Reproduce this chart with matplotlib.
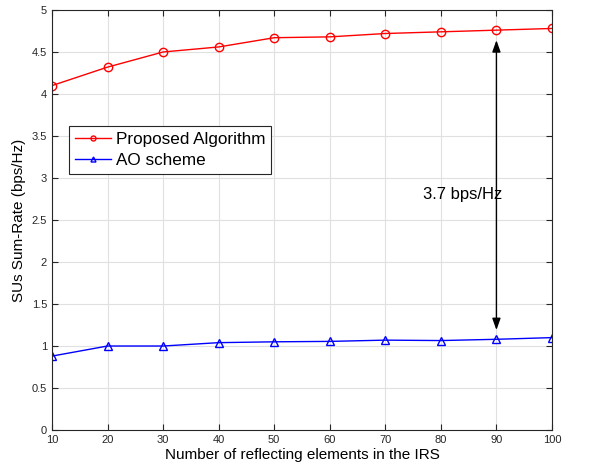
import numpy as np
import matplotlib.pyplot as plt

# Dados
n_elementos = [10, 20, 30, 40, 50, 60, 70, 80, 90, 100]
proposto = [4.10, 4.32, 4.50, 4.56, 4.67, 4.68, 4.72, 4.74, 4.76, 4.78]
ao = [0.88, 1.00, 1.00, 1.04, 1.05, 1.055, 1.07, 1.065, 1.08, 1.10]

plt.rcParams['font.family'] = ['Liberation Sans', 'DejaVu Sans']

fig = plt.figure(figsize=(5.95, 4.71), dpi=100)
ax = fig.add_axes([0.0874, 0.087, 0.8403, 0.8918])

ax.plot(n_elementos, proposto, 'r-o', lw=1, ms=6, mfc='none', mew=1, label='Proposed Algorithm')
ax.plot(n_elementos, ao, 'b-^', lw=1, ms=6, mfc='none', mew=1, label='AO scheme')

# seta dupla indicando o ganho
ax.annotate('', xy=(90, 4.64), xytext=(90, 1.19),
            arrowprops=dict(arrowstyle='<|-|>,head_length=0.7,head_width=0.25',
                            color='black', lw=1, shrinkA=0, shrinkB=0))
ax.text(84, 2.8, '3.7 bps/Hz', fontsize=12, ha='center', va='center')

ax.set_xlim(10, 100)
ax.set_ylim(0, 5)
ax.set_xticks(n_elementos)
ax.set_yticks(np.arange(0, 5.01, 0.5))
ax.set_yticklabels(['0', '0.5', '1', '1.5', '2', '2.5', '3', '3.5', '4', '4.5', '5'])
ax.tick_params(direction='in', top=True, right=True, labelsize=8, colors='#262626', length=4)
for s in ax.spines.values():
    s.set_color('#262626')
    s.set_linewidth(0.8)
ax.grid(True, color='#e0e0e0', lw=0.8)
ax.set_xlabel('Number of reflecting elements in the IRS', fontsize=11, labelpad=2)
ax.set_ylabel('SUs Sum-Rate (bps/Hz)', fontsize=11)

leg = ax.legend(loc='upper left', bbox_to_anchor=(0.034, 0.724), fontsize=12.3,
                fancybox=False, edgecolor='#262626', framealpha=1, markerscale=0.6,
                borderpad=0.35, labelspacing=0.35, handlelength=2.1, handletextpad=0.3,
                borderaxespad=0, frameon=True)
leg.get_frame().set_linewidth(0.8)

fig.savefig('out.png', dpi=100)
